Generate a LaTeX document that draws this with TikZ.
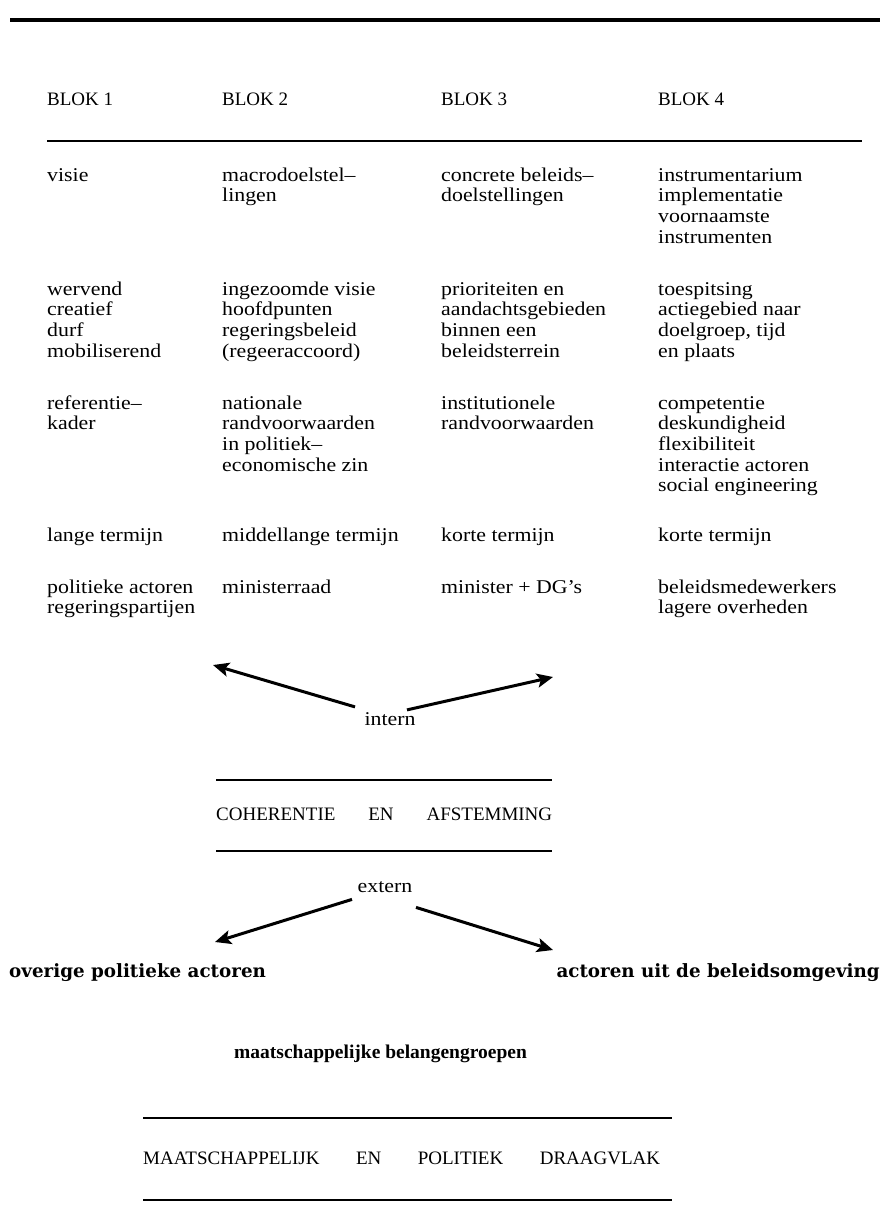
\documentclass[tikz,border=0pt]{standalone}
\usepackage{fontspec}
\setmainfont{Liberation Serif}
\newfontfamily\bodyfont{Liberation Serif}[Ligatures=TeX, FakeStretch=1.12]
\newfontfamily\heavyfont{DejaVu Serif}[Ligatures=TeX]
\usetikzlibrary{arrows.meta}

% one table cell, aligned on the baseline of its first line
\newcommand{\blokcell}[1]{\begin{tabular}[t]{@{}l@{}}#1\end{tabular}}

\begin{document}
\begin{tikzpicture}[x=1pt, y=-1pt,
  every node/.style={inner sep=0pt, font=\bodyfont\fontsize{19.5}{20.7}\selectfont},
  cell/.style={anchor=base west},
  head/.style={anchor=base west, font=\fontsize{19}{20.7}\selectfont},
  widebold/.style={font=\heavyfont\bfseries\fontsize{18.3}{20}\selectfont},
  boldlabel/.style={font=\fontsize{19.5}{20}\selectfont\bfseries},
  rule/.style={line width=1.4pt},
  arr/.style={line width=3pt, -{Stealth[length=16pt, width=14pt, inset=3.5pt]}}]
\useasboundingbox (0,0) rectangle (889,1211);
\renewcommand{\arraystretch}{1.0}

% heavy page rule
\draw[line width=3.5pt] (10,20) -- (880,20);

% column heads
\node[head] (h1) at (47,105)  {BLOK 1};
\node[head] (h2) at (222,105) {BLOK 2};
\node[head] (h3) at (441,105) {BLOK 3};
\node[head] (h4) at (658,105) {BLOK 4};
\draw[rule] (47,141) -- (862,141);

% row 1
\node[cell] (a1) at (47,181)  {\blokcell{visie}};
\node[cell] (b1) at (222,181) {\blokcell{macrodoelstel--\\lingen}};
\node[cell] (c1) at (441,181) {\blokcell{concrete beleids--\\doelstellingen}};
\node[cell] (d1) at (658,181) {\blokcell{instrumentarium\\implementatie\\voornaamste\\instrumenten}};

% row 2
\node[cell] (a2) at (47,295)  {\blokcell{wervend\\creatief\\durf\\mobiliserend}};
\node[cell] (b2) at (222,295) {\blokcell{ingezoomde visie\\hoofdpunten\\regeringsbeleid\\(regeeraccoord)}};
\node[cell] (c2) at (441,295) {\blokcell{prioriteiten en\\aandachtsgebieden\\binnen een\\beleidsterrein}};
\node[cell] (d2) at (658,295) {\blokcell{toespitsing\\actiegebied naar\\doelgroep, tijd\\en plaats}};

% row 3
\node[cell] (a3) at (47,409)  {\blokcell{referentie--\\kader}};
\node[cell] (b3) at (222,409) {\blokcell{nationale\\randvoorwaarden\\in politiek--\\economische zin}};
\node[cell] (c3) at (441,409) {\blokcell{institutionele\\randvoorwaarden}};
\node[cell] (d3) at (658,409) {\blokcell{competentie\\deskundigheid\\flexibiliteit\\interactie actoren\\social engineering}};

% row 4
\node[cell] (a4) at (47,541)  {lange termijn};
\node[cell] (b4) at (222,541) {middellange termijn};
\node[cell] (c4) at (441,541) {korte termijn};
\node[cell] (d4) at (658,541) {korte termijn};

% row 5
\node[cell] (a5) at (47,593)  {\blokcell{politieke actoren\\regeringspartijen}};
\node[cell] (b5) at (222,593) {\blokcell{ministerraad}};
\node[cell] (c5) at (441,593) {\blokcell{minister + DG's}};
\node[cell] (d5) at (658,593) {\blokcell{beleidsmedewerkers\\lagere overheden}};

% internal coordination
\node[anchor=base] (intern) at (390,725) {intern};
\coordinate (il) at (213,665);
\coordinate (ir) at (553,677);
\draw[arr] ([shift={(-35,-5)}]intern.north) -- (il);
\draw[arr] ([shift={(17,-2)}]intern.north) -- (ir);

\draw[rule] (216,780) -- (552,780);
\node[cell, font=\fontsize{19}{20.7}\selectfont] (coh) at (216,820) {\makebox[336pt][s]{COHERENTIE EN AFSTEMMING}};
\draw[rule] (216,851) -- (552,851);

% external coordination
\node[anchor=base] (extern) at (385,892) {extern};
\coordinate (el) at (215,942);
\coordinate (er) at (553,950);
\draw[arr] ([shift={(-33,7)}]extern.south) -- (el);
\draw[arr] ([shift={(31,15)}]extern.south) -- (er);

\node[cell, widebold] (ovr) at (9,977) {overige politieke actoren};
\node[anchor=base east, widebold] (omg) at (880,977) {actoren uit de beleidsomgeving};
\node[cell, boldlabel] (blg) at (234,1058) {maatschappelijke belangengroepen};

\draw[rule] (143,1118) -- (672,1118);
\node[cell, font=\fontsize{19}{20.7}\selectfont] (drg) at (143,1164) {\makebox[517pt][s]{MAATSCHAPPELIJK EN POLITIEK DRAAGVLAK}};
\draw[line width=1.1pt] (143,1200) -- (672,1200);
\end{tikzpicture}
\end{document}
